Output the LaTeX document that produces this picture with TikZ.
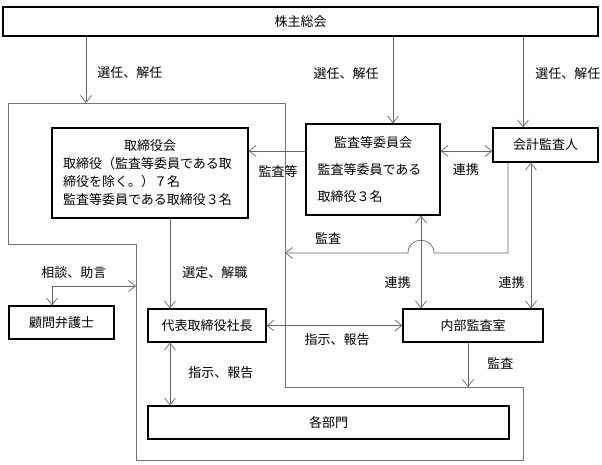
\documentclass[tikz,border=0pt]{standalone}
\usepackage{fontspec}
\newfontfamily\jpfont{Noto Sans CJK JP}
\usetikzlibrary{arrows.meta,positioning}
\tikzset{%
	boxnode/.style={draw=black, line width=1.2pt, inner sep=0pt},
	pt/.style={draw=black!60, line width=0.7pt, -{Straight Barb[length=7pt,width=11pt]}},
	ptb/.style={draw=black!60, line width=0.7pt, {Straight Barb[length=7pt,width=11pt]}-{Straight Barb[length=7pt,width=11pt]}},
	lbl/.style={inner sep=0pt},
	frm/.style={draw=black!55, line width=0.7pt}
}

\begin{document}
\begin{tikzpicture}[x=1pt, y=-1pt, font=\jpfont\fontsize{13}{18}\selectfont]
		\useasboundingbox (0,0) rectangle (602,464);
		
		\node[boxnode, minimum width=595pt, minimum height=29pt] (agm) at (300.5,21.5) {株主総会};
		\node[boxnode, minimum width=196pt, minimum height=90pt, align=left] (board) at (150,173)
			{\makebox[174pt]{取締役会}\\取締役（監査等委員である取\\締役を除く。）７名\\監査等委員である取締役３名};
		\node[boxnode, minimum width=134pt, minimum height=91pt, align=left] (acom) at (373,169.5)
			{\makebox[111pt]{監査等委員会}\\[9pt]監査等委員である\\[9pt]取締役３名};
		\node[boxnode, minimum width=105pt, minimum height=34pt] (auditor) at (545.5,145) {会計監査人};
		\node[boxnode, minimum width=105pt, minimum height=33pt] (lawyer) at (61.5,322.5) {顧問弁護士};
		\node[boxnode, minimum width=118pt, minimum height=33pt] (pres) at (207,325.5) {代表取締役社長};
		\node[boxnode, minimum width=140pt, minimum height=33pt] (internal) at (473,325.5) {内部監査室};
		\node[boxnode, minimum width=361pt, minimum height=33pt] (depts) at (328.5,422.5) {各部門};
		
		% company frame
		\coordinate (f1) at (8,103);
		\coordinate (f2) at (285,103);
		\coordinate (f3) at (285,387);
		\coordinate (f4) at (523,387);
		\coordinate (f5) at (523,460);
		\coordinate (f6) at (136,460);
		\coordinate (f7) at (136,244);
		\coordinate (f8) at (8,244);
		\draw[frm] (f1) -- (f2) -- (f3) -- (f4) -- (f5) -- (f6) -- (f7) -- (f8) -- cycle;
		
		% helper points
		\coordinate (k1) at (86,103);
		\coordinate (k2) at (393,0);
		\coordinate (k3) at (523,0);
		\coordinate (k4) at (508,0);
		\coordinate (k6) at (421,0);
		\coordinate (k7) at (531,0);
		\coordinate (k8) at (170,0);
		\coordinate (k9) at (468,387);
		\coordinate (k10) at (136,286);
		\coordinate (k11) at (52,0);
		\coordinate (r1) at (0,151);
		\coordinate (hopR) at (434,253);
		\coordinate (hopL) at (408,253);
		\coordinate (k5) at (285,253);
		
		\draw[pt] (agm.south -| k1) 	-- node[lbl, pos=0.54, right=11pt] (l1) {選任、解任} (k1);
		\draw[pt] (agm.south -| k2) 	-- node[lbl, pos=0.43, left=14pt] (l2) {選任、解任} (acom.north -| k2);
		\draw[pt] (agm.south -| k3) 	-- node[lbl, pos=0.41, right=12pt] (l3) {選任、解任} (auditor.north -| k3);
		
		\draw[pt] (acom.west |- r1) 	-- node[lbl, pos=0.48, below=14.5pt] (l4) {監査等} (board.east |- r1);
		\draw[ptb] (acom.east |- r1) 	-- node[lbl, pos=0.49, below=12.5pt] (l5) {連携} (auditor.west |- r1);
		
		\draw[pt] (auditor.south -| k4) |- (hopR) .. controls +(0,-17) and +(0,-17) .. (hopL)
			-- node[lbl, pos=0.65, above=8.5pt] (l6) {監査} (k5);
		
		\draw[ptb] (acom.south -| k6) 	-- node[lbl, pos=0.72, left=10pt] (l7) {連携} (internal.north -| k6);
		\draw[ptb] (auditor.south -| k7) 	-- node[lbl, pos=0.82, left=6pt] (l8) {連携} (internal.north -| k7);
		
		\draw[pt] (board.south -| k8) 	-- node[lbl, pos=0.6, right=12pt] (l9) {選定、解職} (pres.north -| k8);
		\draw[ptb] (pres.south -| k8) 	-- node[lbl, pos=0.48, right=18pt] (l10) {指示、報告} (depts.north -| k8);
		\draw[ptb] (pres.east) 	-- node[lbl, pos=0.52, below=7.5pt] (l11) {指示、報告} (internal.west);
		\draw[pt] (internal.south -| k9) 	-- node[lbl, pos=0.47, right=19pt] (l12) {監査} (k9);
		
		\draw[ptb] (lawyer.north -| k11) |- node[lbl, pos=0.63, above=7.5pt] (l13) {相談、助言} (k10);
	\end{tikzpicture}
\end{document}
